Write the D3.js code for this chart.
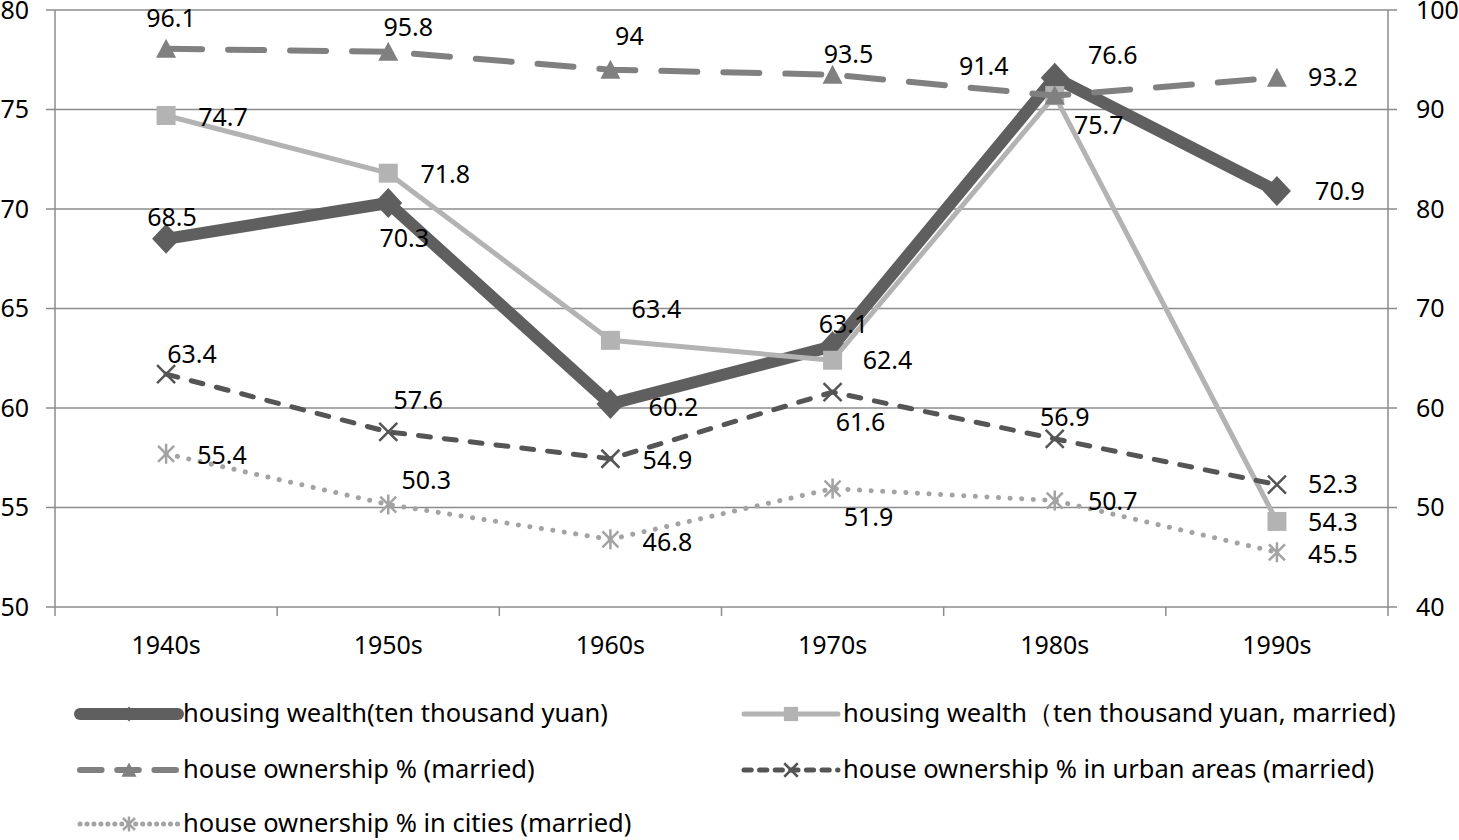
<!DOCTYPE html>
<html>
<head>
<meta charset="utf-8">
<script src="https://cdn.jsdelivr.net/npm/d3@7"></script>
<style>
  html, body { margin: 0; padding: 0; background: #fff; }
  svg text { font-family: "Noto Sans", "DejaVu Sans", sans-serif; fill: #000; }
</style>
</head>
<body>
<svg id="chart" width="1459" height="840"></svg>
<script>
// ---------- data ----------
const categories = ["1940s", "1950s", "1960s", "1970s", "1980s", "1990s"];
const housingWealth        = [68.5, 70.3, 60.2, 63.1, 76.6, 70.9];   // left axis
const housingWealthMarried = [74.7, 71.8, 63.4, 62.4, 75.7, 54.3];   // left axis
const ownershipMarried     = [96.1, 95.8, 94.0, 93.5, 91.4, 93.2];   // right axis
const ownershipUrban       = [63.4, 57.6, 54.9, 61.6, 56.9, 52.3];   // right axis
const ownershipCities      = [55.4, 50.3, 46.8, 51.9, 50.7, 45.5];   // right axis
const leftTicks  = [50, 55, 60, 65, 70, 75, 80];
const rightTicks = [40, 50, 60, 70, 80, 90, 100];
const seriesNames = [
  "housing wealth(ten thousand yuan)",
  "housing wealth（ten thousand yuan, married)",
  "house ownership % (married)",
  "house ownership % in urban areas (married)",
  "house ownership % in cities (married)"
];
// data-label offsets (label centre relative to the point)
const labelOffsets = [
  [[6,-22],[16,35],[63,3],[11,-22],[58,-22],[63,0]],
  [[57,2],[57,1],[46,-31],[55,0],[44,30],[56,1]],
  [[5,-31],[20,-25],[19,-33],[16,-20],[-71,-29],[56,0]],
  [[26,-20],[30,-32],[57,2],[28,30],[10,-22],[56,0]],
  [[56,1],[38,-24],[57,3],[36,29],[58,1],[56,2]]
];

// ---------- layout ----------
const svg = d3.select("#chart");
const plot = { left: 55, right: 1388, top: 10, bottom: 607 };
const x = d3.scaleBand().domain(categories).range([plot.left, plot.right]);
const yL = d3.scaleLinear().domain([50, 80]).range([plot.bottom, plot.top]);
const yR = d3.scaleLinear().domain([40, 100]).range([plot.bottom, plot.top]);
const cx = d => x(d) + x.bandwidth() / 2;
const FS = 25;
const FS_LEGEND = 25.5;

// gridlines
svg.append("g").selectAll("line").data(leftTicks).join("line")
  .attr("x1", plot.left - 9).attr("x2", plot.right + 9)
  .attr("y1", d => yL(d)).attr("y2", d => yL(d))
  .attr("stroke", "#8c8c8c").attr("stroke-width", 1.5);

// axes lines
const axisColor = "#8c8c8c";
svg.append("line").attr("x1", plot.left).attr("x2", plot.left)
  .attr("y1", plot.top).attr("y2", plot.bottom + 9).attr("stroke", axisColor).attr("stroke-width", 1.5);
svg.append("line").attr("x1", plot.right).attr("x2", plot.right)
  .attr("y1", plot.top).attr("y2", plot.bottom + 9).attr("stroke", axisColor).attr("stroke-width", 1.5);
// x ticks at band boundaries
svg.append("g").selectAll("line").data(categories.slice(1)).join("line")
  .attr("x1", d => x(d)).attr("x2", d => x(d))
  .attr("y1", plot.bottom).attr("y2", plot.bottom + 9)
  .attr("stroke", axisColor).attr("stroke-width", 1.5);

// axis labels
svg.append("g").selectAll("text").data(leftTicks).join("text")
  .attr("x", 29).attr("y", d => yL(d)).attr("dy", "0.35em")
  .attr("text-anchor", "end").attr("font-size", FS).text(d => d);
svg.append("g").selectAll("text").data(rightTicks).join("text")
  .attr("x", 1416).attr("y", d => yR(d)).attr("dy", "0.35em")
  .attr("text-anchor", "start").attr("font-size", FS).text(d => d);
svg.append("g").selectAll("text").data(categories).join("text")
  .attr("x", d => cx(d)).attr("y", 645).attr("dy", "0.35em")
  .attr("text-anchor", "middle").attr("font-size", FS).text(d => d);

// ---------- marker shapes ----------
function markerPath(type, s) {
  switch (type) {
    case "diamond": return `M0,${-15*s}L${14*s},0L0,${15*s}L${-14*s},0Z`;
    case "square": return `M${-9.5*s},${-9.5*s}h${19*s}v${19*s}h${-19*s}Z`;
    case "triangle": return `M0,${-10*s}L${10*s},${9*s}L${-10*s},${9*s}Z`;
    case "x": return `M${-9*s},${-9*s}L${9*s},${9*s}M${9*s},${-9*s}L${-9*s},${9*s}`;
    case "star": return `M${-8*s},${-8*s}L${8*s},${8*s}M${8*s},${-8*s}L${-8*s},${8*s}M0,${-10*s}L0,${10*s}`;
  }
}

const series = [
  { values: housingWealth, axis: yL, color: "#5f5f5f", width: 12, dash: null, cap: "round", marker: "diamond", fill: true },
  { values: housingWealthMarried, axis: yL, color: "#b3b3b3", width: 5, dash: null, cap: "round", marker: "square", fill: true },
  { values: ownershipMarried, axis: yR, color: "#808080", width: 6, dash: "36,26", cap: "round", marker: "triangle", fill: true },
  { values: ownershipUrban, axis: yR, color: "#555555", width: 5, dash: "12,14", cap: "round", marker: "x", fill: false },
  { values: ownershipCities, axis: yR, color: "#a3a3a3", width: 5, dash: "0.1,11.5", cap: "round", marker: "star", fill: false }
];

series.forEach((s, i) => {
  const line = d3.line().x((d, j) => cx(categories[j])).y(d => s.axis(d));
  svg.append("path").datum(s.values).attr("d", line)
    .attr("fill", "none").attr("stroke", s.color).attr("stroke-width", s.width)
    .attr("stroke-linecap", s.cap).attr("stroke-linejoin", "round")
    .attr("stroke-dasharray", s.dash);
  svg.append("g").selectAll("path").data(s.values).join("path")
    .attr("transform", (d, j) => `translate(${cx(categories[j])},${s.axis(d)})`)
    .attr("d", markerPath(s.marker, 1))
    .attr("fill", s.fill ? s.color : "none")
    .attr("stroke", s.fill ? "none" : s.color)
    .attr("stroke-width", 2.5);
});

// data labels
series.forEach((s, i) => {
  svg.append("g").selectAll("text").data(s.values).join("text")
    .attr("x", (d, j) => cx(categories[j]) + labelOffsets[i][j][0])
    .attr("y", (d, j) => s.axis(d) + labelOffsets[i][j][1])
    .attr("dy", "0.35em").attr("text-anchor", "middle").attr("font-size", FS)
    .text(d => d);
});

// ---------- legend ----------
const legendPos = [[78, 714], [742, 714], [78, 770], [742, 770], [78, 824]];
series.forEach((s, i) => {
  const [lx, ly] = legendPos[i];
  const g = svg.append("g").attr("transform", `translate(${lx},${ly})`);
  const w = i % 2 === 0 ? 100 : 96;
  g.append("line").attr("x1", 2).attr("x2", w).attr("y1", 0).attr("y2", 0)
    .attr("stroke", s.color).attr("stroke-width", s.width)
    .attr("stroke-linecap", s.cap).attr("stroke-dasharray", s.dash ? s.dash.split(",").map(v => v * 0.6).join(",") : null);
  g.append("path").attr("transform", `translate(${w / 2 + 1},0)`)
    .attr("d", markerPath(s.marker, i === 0 ? 0.5 : 0.75))
    .attr("fill", s.fill ? s.color : "none")
    .attr("stroke", s.fill ? "none" : s.color).attr("stroke-width", 2.5);
  g.append("text").attr("x", w + 5).attr("y", 0).attr("dy", "0.33em")
    .attr("font-size", FS_LEGEND).text(seriesNames[i]);
});
</script>
</body>
</html>
